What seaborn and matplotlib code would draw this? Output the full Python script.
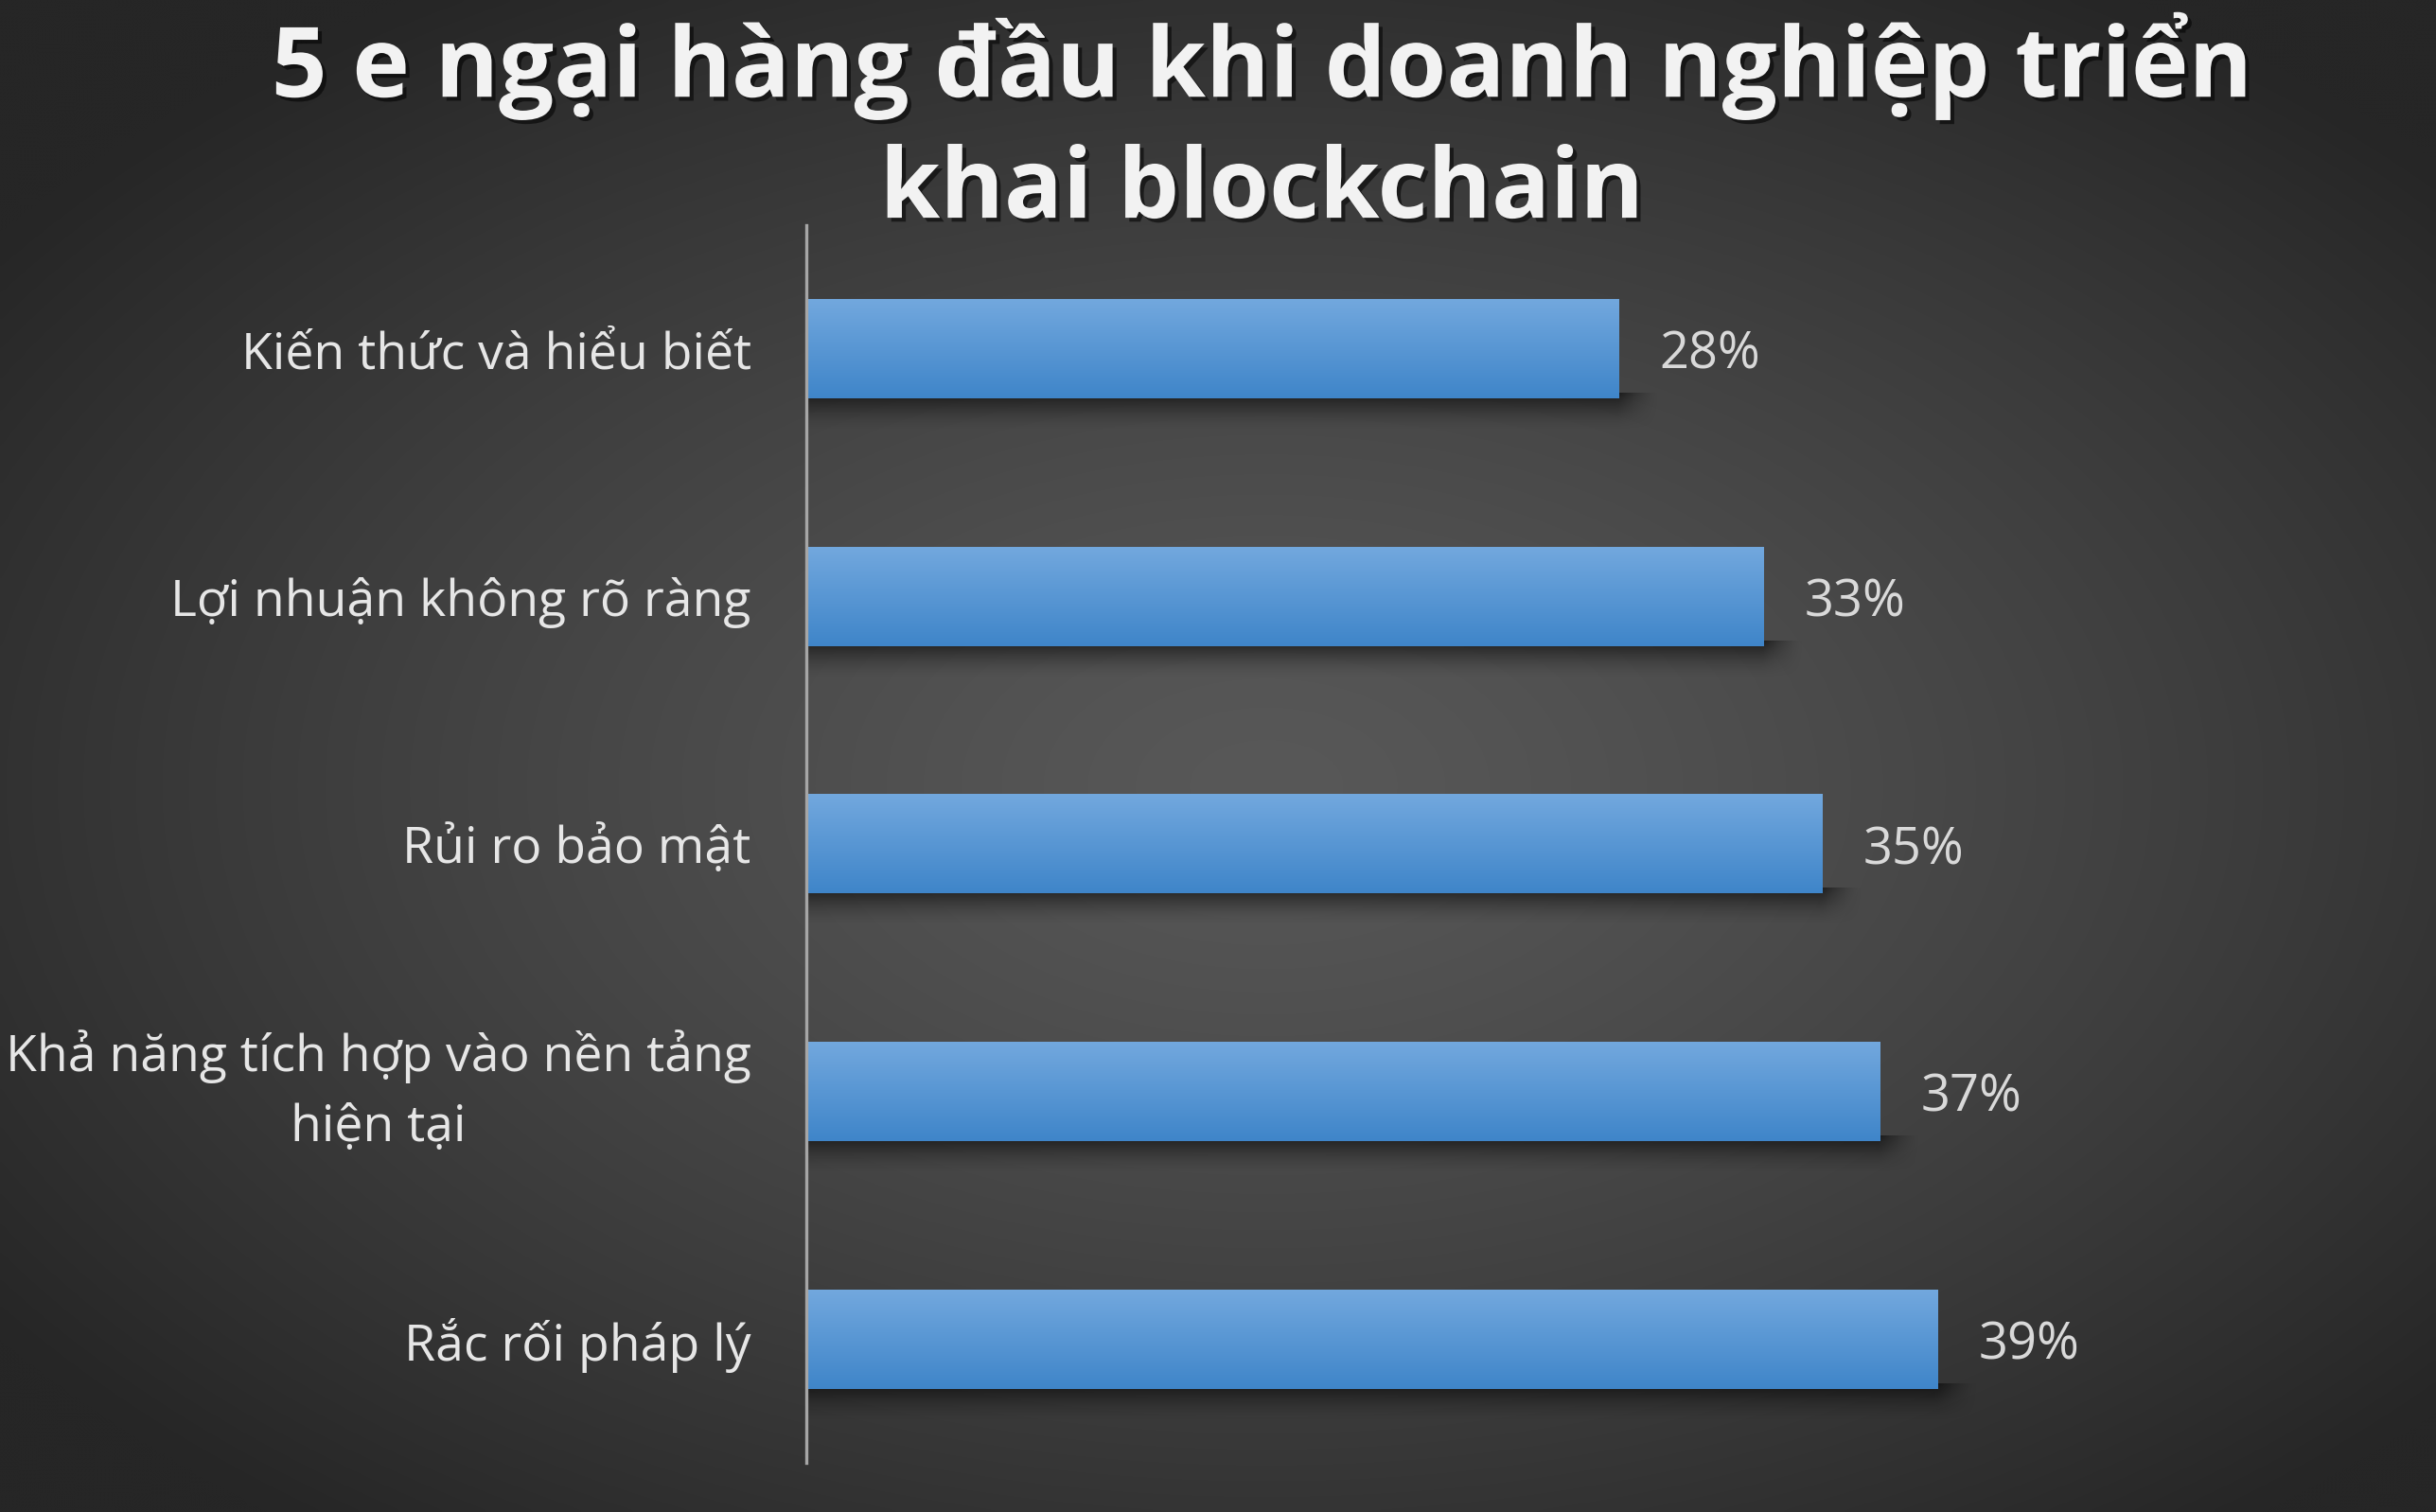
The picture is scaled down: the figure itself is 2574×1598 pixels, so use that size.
import numpy as np
import matplotlib
matplotlib.use("Agg")
import matplotlib.pyplot as plt
import matplotlib.patheffects as pe
import seaborn as sns
import pandas as pd

categories = ["Kiến thức và hiểu biết", "Lợi nhuận không rõ ràng", "Rủi ro bảo mật",
              "Khả năng tích hợp vào nền tảng\nhiện tại", "Rắc rối pháp lý"]
values = [0.28, 0.33, 0.35, 0.37, 0.39]
value_labels = ["28%", "33%", "35%", "37%", "39%"]
title_lines = ["5 e ngại hàng đầu khi doanh nghiệp triển", "khai blockchain"]

sns.set_theme(style="white")
plt.rcParams["font.family"] = ["Open Sans", "DejaVu Sans"]

fig = plt.figure(figsize=(25.74, 15.98), dpi=100)

# background radial gradient
bg = fig.add_axes([0, 0, 1, 1], zorder=0)
H, W = 400, 644
yy, xx = np.mgrid[0:1:H * 1j, 0:1:W * 1j]
r = np.sqrt(((xx - 0.52) / 0.64) ** 2 + ((yy - 0.52) / 0.62) ** 2)
r = np.clip(r, 0, 1)
c0, c1 = 0x58 / 255, 0x26 / 255
g = c0 + (c1 - c0) * r ** 1.3
bg.imshow(np.dstack([g, g, g]), extent=[0, 1, 0, 1], aspect="auto", interpolation="bicubic")
bg.set_xlim(0, 1)
bg.set_ylim(0, 1)
bg.axis("off")

ax = fig.add_axes([0.331, 0.0325, 0.669, 0.8185], zorder=1)
ax.set_facecolor("none")
df = pd.DataFrame({"cat": categories, "val": values})
sns.barplot(data=df, y="cat", x="val", orient="h", width=0.4, color="#5b9bd5",
            saturation=1, ax=ax)

top = np.array([0x72, 0xa8, 0xde]) / 255
bot = np.array([0x3f, 0x85, 0xc9]) / 255
t = np.linspace(0, 1, 120)[:, None, None]
bar_img = top + (bot - top) * t

for p in ax.patches:
    x, y, w, h = p.get_x(), p.get_y(), p.get_width(), p.get_height()
    # soft drop shadow below the bar
    sx0, sx1 = x, x + w + 0.014
    sy0, sy1 = y + h - 0.02, y + h + 0.13
    nx, ny = 300, 80
    gx = np.linspace(sx0, sx1, nx)
    gy = np.linspace(0, 1, ny)
    vert = (1 - gy) ** 1.6
    horiz = np.clip((sx1 - gx) / 0.014, 0, 1) ** 1.5
    sh = np.zeros((ny, nx, 4))
    sh[..., 3] = 0.62 * vert[:, None] * horiz[None, :]
    ax.imshow(sh, extent=[sx0, sx1, sy1, sy0], aspect="auto", zorder=2,
              interpolation="bilinear")
    ax.imshow(bar_img, extent=[x, x + w, y + h, y], aspect="auto", zorder=3,
              interpolation="bilinear")
    p.set_facecolor("none")
    p.set_edgecolor("none")

ax.set_xlim(0, 0.5616)
ax.set_ylim(4.5, -0.5)
ax.set_xticks([])
ax.set_xlabel("")
ax.set_ylabel("")
for s in ["top", "right", "bottom"]:
    ax.spines[s].set_visible(False)
ax.spines["left"].set_color("#a6a6a6")
ax.spines["left"].set_linewidth(2.4)
ax.spines["left"].set_zorder(4)
ax.tick_params(axis="y", length=0, pad=42, labelsize=38.5, labelcolor="#e6e6e6")
for lbl in ax.get_yticklabels():
    lbl.set_multialignment("center")
    lbl.set_linespacing(1.5)
    if "\n" in lbl.get_text():
        lbl.set_va("center")

texts = ax.bar_label(ax.containers[0], labels=value_labels, padding=31, fontsize=39,
                     color="#d9d9d9")
for tx in texts:
    tx.set_va("center_baseline")

shadow_fx = [pe.SimplePatchShadow(offset=(3, -3), shadow_rgbFace="black", alpha=0.55), pe.Normal()]
fig.text(0.518, 0.936, title_lines[0], ha="center", va="baseline", fontsize=74,
         fontweight="bold", color="#f2f2f2", path_effects=shadow_fx)
fig.text(0.518, 0.856, title_lines[1], ha="center", va="baseline", fontsize=74,
         fontweight="bold", color="#f2f2f2", path_effects=shadow_fx)

fig.savefig("out.png", dpi=100)
